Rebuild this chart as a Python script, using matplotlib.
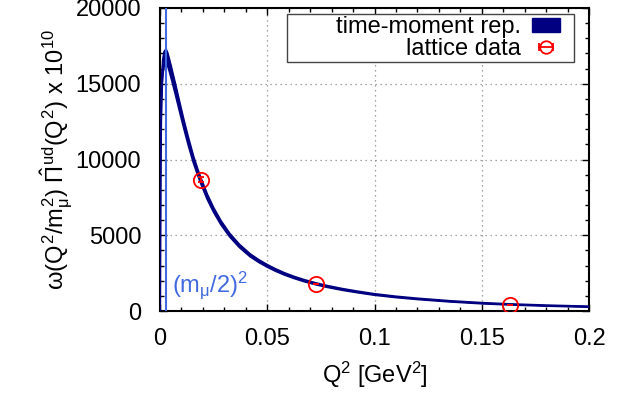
import numpy as np
import matplotlib.pyplot as plt
from matplotlib.lines import Line2D
from matplotlib.patches import Patch, Rectangle
from matplotlib.legend_handler import HandlerLine2D
from matplotlib.ticker import MultipleLocator

plt.rcParams['font.family'] = ['Liberation Sans', 'DejaVu Sans']
plt.rcParams['mathtext.fontset'] = 'custom'
plt.rcParams['mathtext.rm'] = 'Liberation Sans'
plt.rcParams['mathtext.it'] = 'Liberation Sans'
plt.rcParams['mathtext.sf'] = 'Liberation Sans'

# time-moment representation: Q^2 [GeV^2], central value and half width of the band
q2 = [0.0, 0.00005, 0.0001, 0.0002, 0.0003, 0.0005, 0.0007, 0.001, 0.0014, 0.002,
      0.0028, 0.0035, 0.0045, 0.0055, 0.007, 0.0092, 0.011, 0.0133, 0.0156, 0.0175,
      0.0189, 0.022, 0.025, 0.0285, 0.0325, 0.037, 0.042, 0.046, 0.05, 0.054,
      0.058, 0.0625, 0.067, 0.0726, 0.078, 0.085, 0.092, 0.1, 0.11, 0.12,
      0.135, 0.15, 0.163, 0.18, 0.2]
tmr_val = [0, 3000, 5200, 8200, 10300, 12800, 14200, 15400, 16200, 16700,
           16850, 16650, 16150, 15600, 14750, 13450, 12400, 11150, 10000, 9200,
           8650, 7550, 6670, 5810, 5010, 4300, 3680, 3300, 2980, 2695,
           2450, 2215, 2012, 1797, 1620, 1424, 1260, 1090, 930, 800,
           640, 515, 435, 355, 285]
tmr_err = [0, 150, 250, 320, 360, 400, 420, 420, 420, 420,
           420, 400, 370, 350, 320, 280, 250, 230, 200, 180,
           170, 150, 130, 115, 100, 90, 80, 75, 70, 65,
           60, 56, 53, 50, 46, 42, 38, 35, 31, 28,
           25, 24, 22, 20, 18]

# lattice data
lat_q2 = [0.0189, 0.0726, 0.1633]
lat_val = [8670, 1805, 420]
lat_err = [150, 10, 5]

mmu_half_sq = 0.00279  # (m_mu/2)^2

navy = '#000080'
blue = '#4169e1'
fs = 17

fig = plt.figure(figsize=(6.19, 3.94), dpi=100)
ax = fig.add_axes([160 / 619, (394 - 311) / 394, (589 - 160) / 619, (311 - 8) / 394])

q2 = np.array(q2)
lo = np.array(tmr_val) - np.array(tmr_err)
hi = np.array(tmr_val) + np.array(tmr_err)
ax.fill_between(q2, lo, hi, color=navy, lw=0, zorder=3)
ax.plot(q2, lo, color=navy, lw=1.5, zorder=3)
ax.plot(q2, hi, color=navy, lw=1.5, zorder=3)

ax.errorbar(lat_q2, lat_val, yerr=lat_err, fmt='o', color='red', mfc='none',
            ms=11, mew=1.3, elinewidth=1.3, capsize=2.5, capthick=1.3, zorder=5)

ax.axvline(mmu_half_sq, color=blue, lw=1.5, zorder=4)
ax.text(0.0055, 1250, r'(m$_\mu$/2)$^2$', color=blue, fontsize=fs, zorder=6)

ax.set_xlim(0, 0.2)
ax.set_ylim(0, 20000)
ax.set_xticks([0, 0.05, 0.1, 0.15, 0.2])
ax.set_xticklabels(['0', '0.05', '0.1', '0.15', '0.2'])
ax.xaxis.set_minor_locator(MultipleLocator(0.01))
ax.yaxis.set_major_locator(MultipleLocator(5000))
ax.yaxis.set_minor_locator(MultipleLocator(1000))

ax.tick_params(which='both', direction='in', top=True, right=True, width=1)
ax.tick_params(which='major', length=5, labelsize=fs)
ax.tick_params(which='minor', length=3)
ax.tick_params(axis='x', pad=12)
ax.tick_params(axis='y', pad=13.5)
for s in ax.spines.values():
    s.set_linewidth(1.5)

ax.set_axisbelow(True)
ax.grid(True, which='major', color='#888888', linestyle=(0, (1, 3)), lw=0.9)

ax.set_xlabel(r'Q$^2$ [GeV$^2$]', fontsize=fs, labelpad=7)
ax.set_ylabel(r'$\omega(Q^2/m_\mu^2)\ \hat{\Pi}^{ud}(Q^2)$ x 10$^{10}$', fontsize=fs, labelpad=0.5)

# legend box drawn like gnuplot's key
ax.add_patch(Rectangle((287 / 619, (394 - 62) / 394), (574 - 287) / 619, 48 / 394,
                       transform=fig.transFigure, facecolor='white', edgecolor='#444444',
                       lw=1.0, zorder=9))

band_handle = Patch(facecolor=navy, edgecolor=navy)
caps = Line2D([], [], color='red', lw=1.3, marker='|', ms=6, mew=1.3)
circ = Line2D([], [], color='red', ls='none', marker='o', ms=9, mfc='none', mew=1.3)
leg = ax.legend([band_handle, (caps, circ)], ['time-moment rep.', 'lattice data'],
                handler_map={caps: HandlerLine2D(numpoints=2)},
                loc='upper right', bbox_to_anchor=(560 / 619, (394 - 16) / 394),
                bbox_transform=fig.transFigure, markerfirst=False, frameon=False,
                fontsize=fs, borderpad=0, labelspacing=0, handlelength=1.2,
                handleheight=0.55, handletextpad=0.47, borderaxespad=0)
leg.set_zorder(10)

fig.savefig('out.png', dpi=100)
